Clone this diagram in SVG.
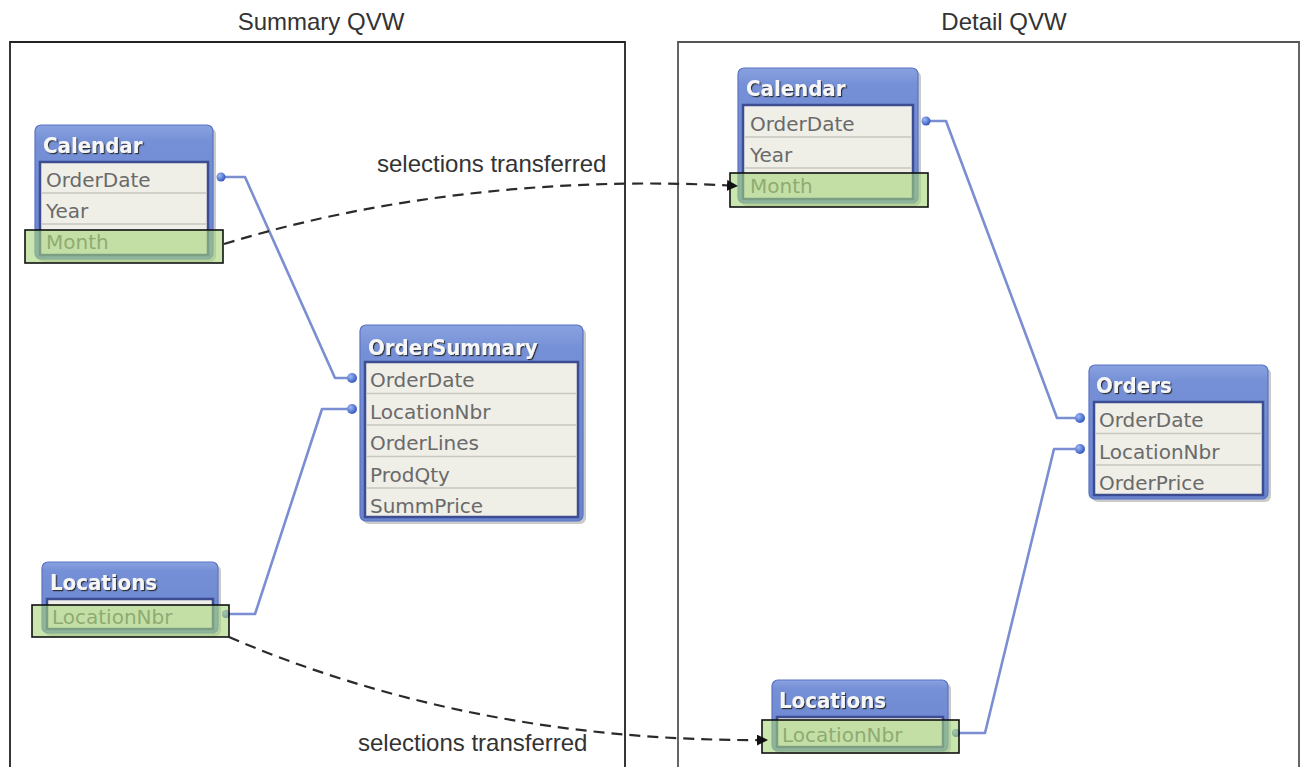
<svg xmlns="http://www.w3.org/2000/svg" width="1304" height="767" viewBox="0 0 1304 767">
<style>
.frame{fill:none;stroke-width:1.8}
.title{font-family:"Liberation Sans",Arial,sans-serif;font-size:24px;fill:#333}
.shadow{fill:#8a8a8a;opacity:0.45}
.outer{fill:url(#hdr);stroke:#5a73c2;stroke-width:1.2}
.body{fill:#efeee7;stroke:#3c4d92;stroke-width:2.5}
.sep{stroke:#c7c7bf;stroke-width:1.5}
.hdrtxt{font-family:"DejaVu Sans Condensed","DejaVu Sans",sans-serif;font-weight:bold;font-size:22px;fill:#f6f6f6;filter:url(#ts)}
.row{font-family:"DejaVu Sans",Verdana,sans-serif;font-size:20px;fill:#6a6a6a}
.hl{fill:#a6d67a;fill-opacity:0.6;stroke:#111;stroke-width:1.6}
.link{fill:none;stroke:#7a8ed1;stroke-width:2.6;stroke-linejoin:round}
.dot{fill:url(#dotg)}
.xfer{fill:none;stroke:#2a2a2a;stroke-width:2.2;stroke-dasharray:11 7}
</style>
<defs>
<linearGradient id="hdr" x1="0" y1="0" x2="0" y2="1">
<stop offset="0" stop-color="#8aa2e0"/>
<stop offset="0.12" stop-color="#7590d6"/>
<stop offset="1" stop-color="#6a85cf"/>
</linearGradient>
<radialGradient id="dotg" cx="0.35" cy="0.35" r="0.7">
<stop offset="0" stop-color="#9fb8f5"/>
<stop offset="1" stop-color="#2f55bd"/>
</radialGradient>
<filter id="ts" x="-10%" y="-20%" width="130%" height="150%">
<feDropShadow dx="1.2" dy="1.2" stdDeviation="0.6" flood-color="#222" flood-opacity="0.9"/>
</filter>
<marker id="arr" markerUnits="userSpaceOnUse" markerWidth="11" markerHeight="11" viewBox="0 0 10 10" refX="10" refY="5" orient="auto">
<path d="M0,0 L10,5 L0,10 z" fill="#111"/>
</marker>
</defs>

<g id="frames">
<text class="title" x="321" y="30" text-anchor="middle">Summary QVW</text>
<text class="title" x="1004" y="30" text-anchor="middle">Detail QVW</text>
<path class="frame" stroke="#222" d="M10,770 V42 H625 V770"/>
<path class="frame" stroke="#555" d="M678,770 V42 H1299 V770"/>
</g>

<g id="connectors">
<polyline class="link" points="221,177 245,177 335,378 352,378"/>
<polyline class="link" points="226,614 255,614 322,409 352,409"/>
<polyline class="link" points="926,121 946,121 1057,418 1080,418"/>
<polyline class="link" points="956,733 985,733 1054,449 1080,449"/>
<circle class="dot" cx="221" cy="177" r="4.5"/>
<circle class="dot" cx="352" cy="378" r="5"/>
<circle class="dot" cx="352" cy="409" r="5"/>
<circle class="dot" cx="926" cy="121" r="4.5"/>
<circle class="dot" cx="1080" cy="418" r="5"/>
<circle class="dot" cx="1080" cy="449" r="5"/>
<circle class="dot" cx="226" cy="614" r="4"/>
<circle class="dot" cx="956" cy="733" r="4"/>
</g>

<g id="cal-left">
<rect class="shadow" x="38" y="128" width="178" height="134" rx="6"/>
<rect class="outer" x="35" y="125" width="178" height="134" rx="6"/>
<rect class="body" x="40" y="162" width="168" height="93"/>
<line class="sep" x1="41" y1="193" x2="207" y2="193"/>
<line class="sep" x1="41" y1="224" x2="207" y2="224"/>
<text class="hdrtxt" x="43" y="153">Calendar</text>
<text class="row" x="46" y="187">OrderDate</text>
<text class="row" x="46" y="218">Year</text>
<text class="row" x="46" y="249">Month</text>
<rect class="hl" x="25" y="230" width="198" height="33"/>
</g>

<g id="ordersummary">
<rect class="shadow" x="363" y="328" width="223" height="196" rx="6"/>
<rect class="outer" x="360" y="325" width="223" height="196" rx="6"/>
<rect class="body" x="365" y="362" width="213" height="155"/>
<line class="sep" x1="366" y1="393.5" x2="577" y2="393.5"/>
<line class="sep" x1="366" y1="425" x2="577" y2="425"/>
<line class="sep" x1="366" y1="456.5" x2="577" y2="456.5"/>
<line class="sep" x1="366" y1="488" x2="577" y2="488"/>
<text class="hdrtxt" x="368" y="355">OrderSummary</text>
<text class="row" x="370" y="387">OrderDate</text>
<text class="row" x="370" y="418.5">LocationNbr</text>
<text class="row" x="370" y="450">OrderLines</text>
<text class="row" x="370" y="481.5">ProdQty</text>
<text class="row" x="370" y="513">SummPrice</text>
</g>

<g id="loc-left">
<rect class="shadow" x="45" y="565" width="176" height="71" rx="6"/>
<rect class="outer" x="42" y="562" width="176" height="71" rx="6"/>
<rect class="body" x="47" y="599" width="166" height="30"/>
<text class="hdrtxt" x="50" y="590">Locations</text>
<text class="row" x="52" y="624">LocationNbr</text>
<rect class="hl" x="32" y="605" width="197" height="32"/>
</g>

<g id="cal-right">
<rect class="shadow" x="741" y="71" width="180" height="135" rx="6"/>
<rect class="outer" x="738" y="68" width="180" height="135" rx="6"/>
<rect class="body" x="743" y="105" width="170" height="94"/>
<line class="sep" x1="744" y1="137" x2="912" y2="137"/>
<line class="sep" x1="744" y1="168" x2="912" y2="168"/>
<text class="hdrtxt" x="746" y="96">Calendar</text>
<text class="row" x="750" y="131">OrderDate</text>
<text class="row" x="750" y="162">Year</text>
<text class="row" x="750" y="193">Month</text>
<rect class="hl" x="730" y="173" width="198" height="34"/>
</g>

<g id="orders">
<rect class="shadow" x="1092" y="368" width="179" height="134" rx="6"/>
<rect class="outer" x="1089" y="365" width="179" height="134" rx="6"/>
<rect class="body" x="1094" y="402" width="169" height="93"/>
<line class="sep" x1="1095" y1="433.5" x2="1262" y2="433.5"/>
<line class="sep" x1="1095" y1="465" x2="1262" y2="465"/>
<text class="hdrtxt" x="1096" y="393">Orders</text>
<text class="row" x="1099" y="427">OrderDate</text>
<text class="row" x="1099" y="458.5">LocationNbr</text>
<text class="row" x="1099" y="490">OrderPrice</text>
</g>

<g id="loc-right">
<rect class="shadow" x="775" y="683" width="176" height="71" rx="6"/>
<rect class="outer" x="772" y="680" width="176" height="71" rx="6"/>
<rect class="body" x="777" y="717" width="166" height="30"/>
<text class="hdrtxt" x="779" y="708">Locations</text>
<text class="row" x="782" y="742">LocationNbr</text>
<rect class="hl" x="762" y="720" width="197" height="33"/>
</g>

<g id="transfers">
<path class="xfer" d="M224,244 C380,196 560,176 738,186" marker-end="url(#arr)"/>
<path class="xfer" d="M229,637 C380,702 560,742 768,740" marker-end="url(#arr)"/>
<text class="title" x="377" y="172">selections transferred</text>
<text class="title" x="358" y="751">selections transferred</text>
</g>
</svg>
